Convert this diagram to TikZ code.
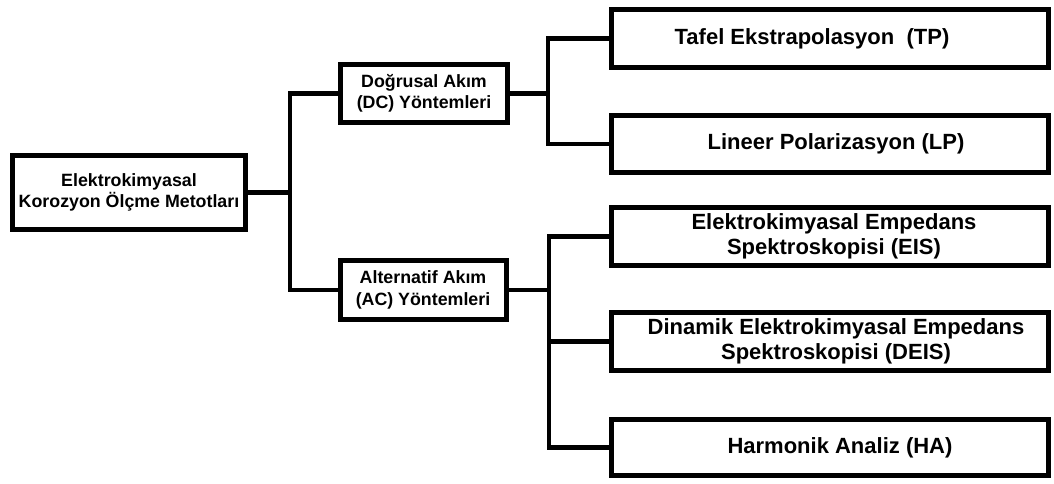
\documentclass[tikz,border=0pt]{standalone}
\usepackage{fontspec}
\setmainfont{Liberation Sans}
\begin{document}
\begin{tikzpicture}[x=1pt,y=-1pt,
  box/.style={draw=black, line width=5pt, fill=white, inner sep=0pt, align=center, font=\bfseries},
  smallbox/.style={box, font=\fontsize{17.8}{21.5}\selectfont\bfseries},
  bigbox/.style={box, minimum width=437pt, font=\fontsize{22}{25}\selectfont\bfseries},
  conn/.style={line width=4.2pt, line join=miter}]
\useasboundingbox (0,0) rectangle (1054,483);
\node[smallbox, minimum width=233pt, minimum height=74pt] (root) at (129,192.5) {Elektrokimyasal\\Korozyon Ölçme Metotları};
\node[smallbox, minimum width=167pt, minimum height=58pt] (dc) at (424,93.5) {Doğrusal Akım\\(DC) Yöntemleri};
\node[smallbox, minimum width=166pt, minimum height=59pt] (ac) at (423,290) {Alternatif Akım\\(AC) Yöntemleri};
\node[bigbox, minimum height=58pt] (tp) at (830,38.5) {Tafel Ekstrapolasyon\ \ (TP)\hspace*{36pt}};
\node[bigbox, minimum height=57pt] (lp) at (830,144) {\hspace*{12pt}Lineer Polarizasyon (LP)};
\node[bigbox, minimum height=58pt] (eis) at (830,236.5) {\hspace*{8pt}Elektrokimyasal Empedans\\\hspace*{8pt}Spektroskopisi (EIS)};
\node[bigbox, minimum height=58pt] (deis) at (830,341.5) {\hspace*{12pt}Dinamik Elektrokimyasal Empedans\\\hspace*{12pt}Spektroskopisi (DEIS)};
\node[bigbox, minimum height=56pt] (ha) at (830,447.5) {\hspace*{20pt}Harmonik Analiz (HA)};
\coordinate (j1) at (290,192.5);
\coordinate (j2) at (548,93.5);
\coordinate (j3) at (549,290);
\draw[conn] (root.east) -- (j1);
\draw[conn] (dc.west) -| (j1) |- (ac.west);
\draw[conn] (dc.east) -- (j2);
\draw[conn] (tp.west) -| (j2) |- (lp.west);
\draw[conn] (ac.east) -- (j3);
\draw[conn] (eis.west) -| (j3) |- (ha.west);
\draw[conn] (deis.west) -- (deis.west -| j3);
\end{tikzpicture}
\end{document}
